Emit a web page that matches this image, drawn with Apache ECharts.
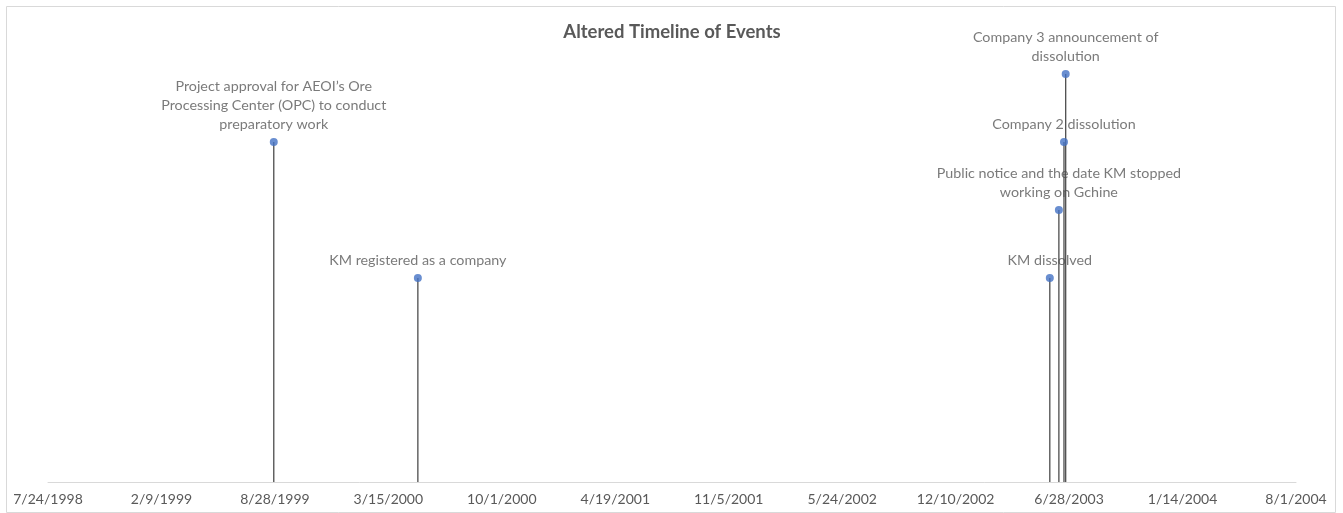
<!DOCTYPE html>
<html>
<head>
<meta charset="utf-8">
<script src="https://cdn.jsdelivr.net/npm/echarts@6/dist/echarts.min.js"></script>
<style>
html,body{margin:0;padding:0;background:#fff;}
#c{width:1343px;height:513px;}
</style>
</head>
<body>
<div id="c"></div>
<script>
// ---- data ----
var eventLabels = [
  "Project approval for AEOI\u2019s Ore\nProcessing Center (OPC) to conduct\npreparatory work",
  "KM registered as a company",
  "KM dissolved",
  "Public notice and the date KM stopped\nworking on Gchine",
  "Company 2 dissolution",
  "Company 3 announcement of\ndissolution"
];
var eventDates = ["1999-08-26", "2000-05-06", "2003-05-25", "2003-06-10", "2003-06-19", "2003-06-22"];
var eventHeights = [50, 30, 30, 40, 50, 60];
var axisStartDate = "1998-07-24";
var axisEndDate = "2004-08-01";
var tickStepDays = 200;
var chartTitle = "Altered Timeline of Events";

// ---- helpers ----
var EPOCH = Date.UTC(1899, 11, 30);
function toSerial(s) {
  var p = s.split("-");
  return Math.round((Date.UTC(+p[0], +p[1] - 1, +p[2]) - EPOCH) / 86400000);
}
function fmtSerial(v) {
  var d = new Date(EPOCH + v * 86400000);
  return (d.getUTCMonth() + 1) + "/" + d.getUTCDate() + "/" + d.getUTCFullYear();
}
var pts = eventDates.map(function (d, i) { return [toSerial(d), eventHeights[i], eventLabels[i]]; });
var FONT = "Lato";

var chart = echarts.init(document.getElementById("c"));
chart.setOption({
  animation: false,
  title: {
    text: chartTitle, left: 667, textAlign: "center", top: 18,
    textStyle: { fontFamily: FONT, fontSize: 18.5, fontWeight: "bold", color: "#595959" }
  },
  graphic: [{
    type: "rect", shape: { x: 6.5, y: 6.5, width: 1329, height: 506 },
    style: { fill: "none", stroke: "#d9d9d9", lineWidth: 1 }, silent: true, z: -1
  }],
  grid: { left: 48, right: 47, top: 6, bottom: 31 },
  xAxis: {
    type: "value", min: toSerial(axisStartDate), max: toSerial(axisEndDate), interval: tickStepDays,
    axisLine: { show: true, lineStyle: { color: "#d9d9d9", width: 1 } },
    axisTick: { show: false }, splitLine: { show: false },
    axisLabel: { color: "#595959", fontFamily: FONT, fontSize: 14, margin: 10, formatter: fmtSerial,
      showMinLabel: true, showMaxLabel: true }
  },
  yAxis: { type: "value", min: 0, max: 70, show: false, splitLine: { show: false } },
  series: [
    {
      type: "scatter", data: pts, symbolSize: 0.1, z: 1,
      itemStyle: { color: "rgba(0,0,0,0)" },
      label: { show: true, position: "top", distance: 8, formatter: function (p) { return p.data[2]; },
        color: "#595959", fontFamily: FONT, fontSize: 14.3, lineHeight: 19, align: "center" }
    },
    {
      type: "custom", data: pts, z: 2,
      renderItem: function (params, api) {
        var top = api.coord([api.value(0), api.value(1)]);
        var bot = api.coord([api.value(0), 0]);
        return { type: "line", shape: { x1: top[0], y1: top[1], x2: bot[0], y2: bot[1] },
          style: { stroke: "#4d4d4d", lineWidth: 1.3 } };
      }
    },
    {
      type: "scatter", data: pts, symbolSize: 8, z: 3,
      itemStyle: { color: "#4472C4" }
    }
  ]
});
</script>
</body>
</html>
